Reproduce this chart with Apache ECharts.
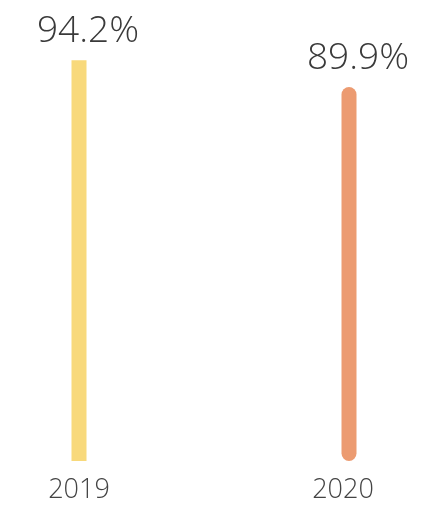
<!DOCTYPE html>
<html>
<head>
<meta charset="utf-8">
<script src="https://cdn.jsdelivr.net/npm/echarts@6/dist/echarts.min.js"></script>
<style>
  html, body { margin: 0; padding: 0; background: #fff; }
  #chart { width: 442px; height: 505px; }
</style>
</head>
<body>
<div id="chart"></div>
<script>
// Yearly share values
const years = ['2019', '2020'];
const shares = [94.2, 89.9];
const barColors = ['#F8D97B', '#EC9B71'];
const barRadius = [0, 7.5];

const chart = echarts.init(document.getElementById('chart'));

chart.setOption({
  animation: false,
  grid: { left: 79, right: 93, top: 24, bottom: 44 },
  xAxis: {
    type: 'category',
    data: years.map((y, i) => ({
      value: y,
      textStyle: { padding: i === 1 ? [0, 12, 0, 0] : 0 }
    })),
    boundaryGap: false,
    axisLine: { show: false },
    axisTick: { show: false },
    axisLabel: {
      margin: 16,
      fontFamily: 'Open Sans',
      fontWeight: 300,
      fontSize: 27,
      color: '#444'
    }
  },
  yAxis: {
    type: 'value',
    min: 30,
    max: 100,
    show: false
  },
  series: [{
    type: 'bar',
    barWidth: 15,
    data: shares.map((v, i) => ({
      value: v,
      itemStyle: { color: barColors[i], borderRadius: barRadius[i] }
    })),
    label: {
      show: true,
      position: 'top',
      distance: 10,
      offset: [9, 0],
      formatter: '{c}%',
      fontFamily: 'Open Sans',
      fontWeight: 300,
      fontSize: 37,
      color: '#3a3a3a'
    }
  }]
});
</script>
</body>
</html>
